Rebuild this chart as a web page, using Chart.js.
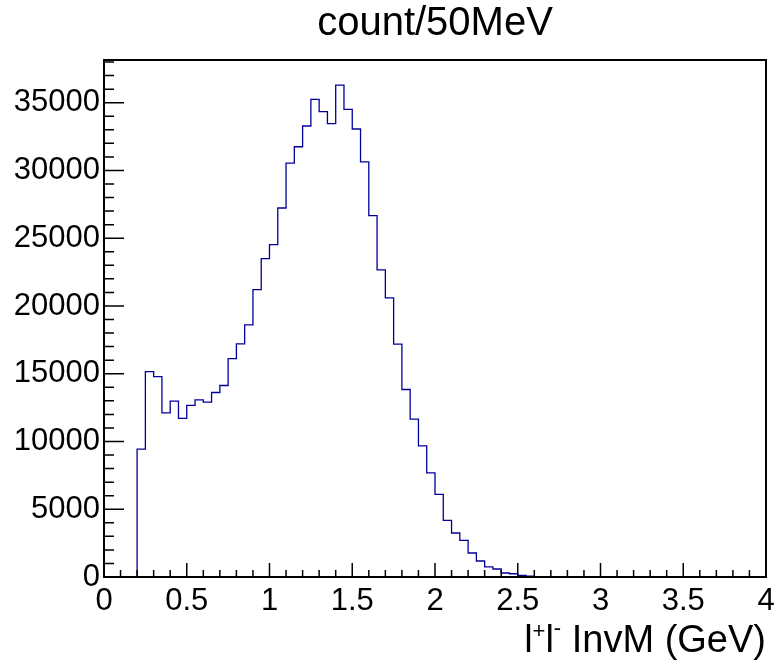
<!DOCTYPE html>
<html>
<head>
<meta charset="utf-8">
<script src="https://cdn.jsdelivr.net/npm/chart.js@4.4.1/dist/chart.umd.min.js"></script>
<style>
  html, body { margin: 0; padding: 0; background: #fff; }
  #wrap { width: 776px; height: 663px; }
</style>
</head>
<body>
<div id="wrap"><canvas id="c" width="776" height="663"></canvas></div>
<script>
const binWidth = 0.05; // GeV
const counts = [
  0, 0, 0, 0, 9440, 15160, 14790, 12115, 12980, 11700,
  12660, 13075, 12900, 13615, 14130, 16120, 17200, 18600, 21200, 23500,
  24530, 27230, 30540, 31750, 33280, 35250, 34340, 33450, 36300, 34510,
  33060, 30630, 26670, 22660, 20600, 17180, 13835, 11650, 9680, 7690,
  6090, 4175, 3245, 2700, 1770, 1180, 740, 590, 295, 240,
  120, 60, 30, 15, 0, 0, 0, 0, 0, 0,
  0, 0, 0, 0, 0, 0, 0, 0, 0, 0,
  0, 0, 0, 0, 0, 0, 0, 0, 0, 0
];
const binLow = counts.map((_, i) => +(i * binWidth).toFixed(2));
const xTicks = [0, 0.5, 1, 1.5, 2, 2.5, 3, 3.5, 4];
const yTicks = [0, 5000, 10000, 15000, 20000, 25000, 30000, 35000];
const xMax = 4;
const yMax = 38150;
const title = "count/50MeV";

const FONT = '"Liberation Sans", Arial, Helvetica, sans-serif';

// histogram outline: a point on each lower bin edge, plus the closing edge
const points = binLow.map((x, i) => ({ x: x, y: counts[i] }));
points.push({ x: xMax, y: counts[counts.length - 1] });

// ROOT-like frame: inward ticks, box, title and axis title
const rootFrame = {
  id: "rootFrame",
  afterDraw(chart) {
    const { ctx, chartArea: a, scales } = chart;
    const x = scales.x;
    const y = scales.y;
    ctx.save();
    ctx.strokeStyle = "#000";
    ctx.lineWidth = 1.5;
    ctx.beginPath();
    for (let k = 0; k <= 40; k++) {
      const px = x.getPixelForValue(k / 10);
      const len = k % 5 === 0 ? 14 : 7;
      ctx.moveTo(px, a.bottom);
      ctx.lineTo(px, a.bottom - len);
    }
    for (let k = 0; k <= 38; k++) {
      const py = y.getPixelForValue(k * 1000);
      const len = k % 5 === 0 ? 20 : 10;
      ctx.moveTo(a.left, py);
      ctx.lineTo(a.left + len, py);
    }
    ctx.stroke();
    ctx.lineWidth = 2;
    ctx.strokeRect(a.left, a.top, a.right - a.left, a.bottom - a.top);

    ctx.fillStyle = "#000";
    ctx.textBaseline = "alphabetic";
    ctx.textAlign = "center";
    ctx.font = "40px " + FONT;
    ctx.fillText(title, (a.left + a.right) / 2, 35);

    // l+l- InvM (GeV), right aligned with the frame
    const parts = [
      ["l", 38, 0], ["+", 22, -14], ["l", 38, 0], ["-", 22, -17], [" InvM (GeV)", 38, 0]
    ];
    let total = 0;
    parts.forEach(p => { ctx.font = p[1] + "px " + FONT; total += ctx.measureText(p[0]).width; });
    let cx = a.right - total;
    ctx.textAlign = "left";
    parts.forEach(p => {
      ctx.font = p[1] + "px " + FONT;
      ctx.fillText(p[0], cx, 652 + p[2]);
      cx += ctx.measureText(p[0]).width;
    });
    ctx.restore();
  }
};

new Chart(document.getElementById("c"), {
  type: "line",
  data: {
    datasets: [
      {
        label: "count",
        data: points,
        stepped: "before",
        borderColor: "#000099",
        borderWidth: 1.3,
        pointRadius: 0,
        fill: false,
        tension: 0,
      },
    ],
  },
  options: {
    responsive: false,
    animation: false,
    layout: { padding: { top: 60, right: 10, left: 0, bottom: 0 } },
    plugins: { legend: { display: false }, tooltip: { enabled: false } },
    scales: {
      x: {
        type: "linear",
        min: 0,
        max: xMax,
        grid: { display: false, drawTicks: false },
        border: { display: false },
        afterBuildTicks: (s) => { s.ticks = xTicks.map(v => ({ value: v })); },
        afterFit: (s) => { s.height = 86; s.paddingLeft = 0; s.paddingRight = 0; },
        ticks: {
          font: { family: FONT, size: 31 },
          color: "#000",
          padding: 6,
          maxRotation: 0,
          autoSkip: false,
          callback: (v) => String(v),
        },
      },
      y: {
        type: "linear",
        min: 0,
        max: yMax,
        grid: { display: false, drawTicks: false },
        border: { display: false },
        afterBuildTicks: (s) => { s.ticks = yTicks.map(v => ({ value: v })); },
        afterFit: (s) => { s.width = 104; s.paddingTop = 0; s.paddingBottom = 0; },
        ticks: {
          font: { family: FONT, size: 31 },
          color: "#000",
          padding: 4,
          autoSkip: false,
          callback: (v) => String(v),
        },
      },
    },
  },
  plugins: [rootFrame],
});
</script>
</body>
</html>
